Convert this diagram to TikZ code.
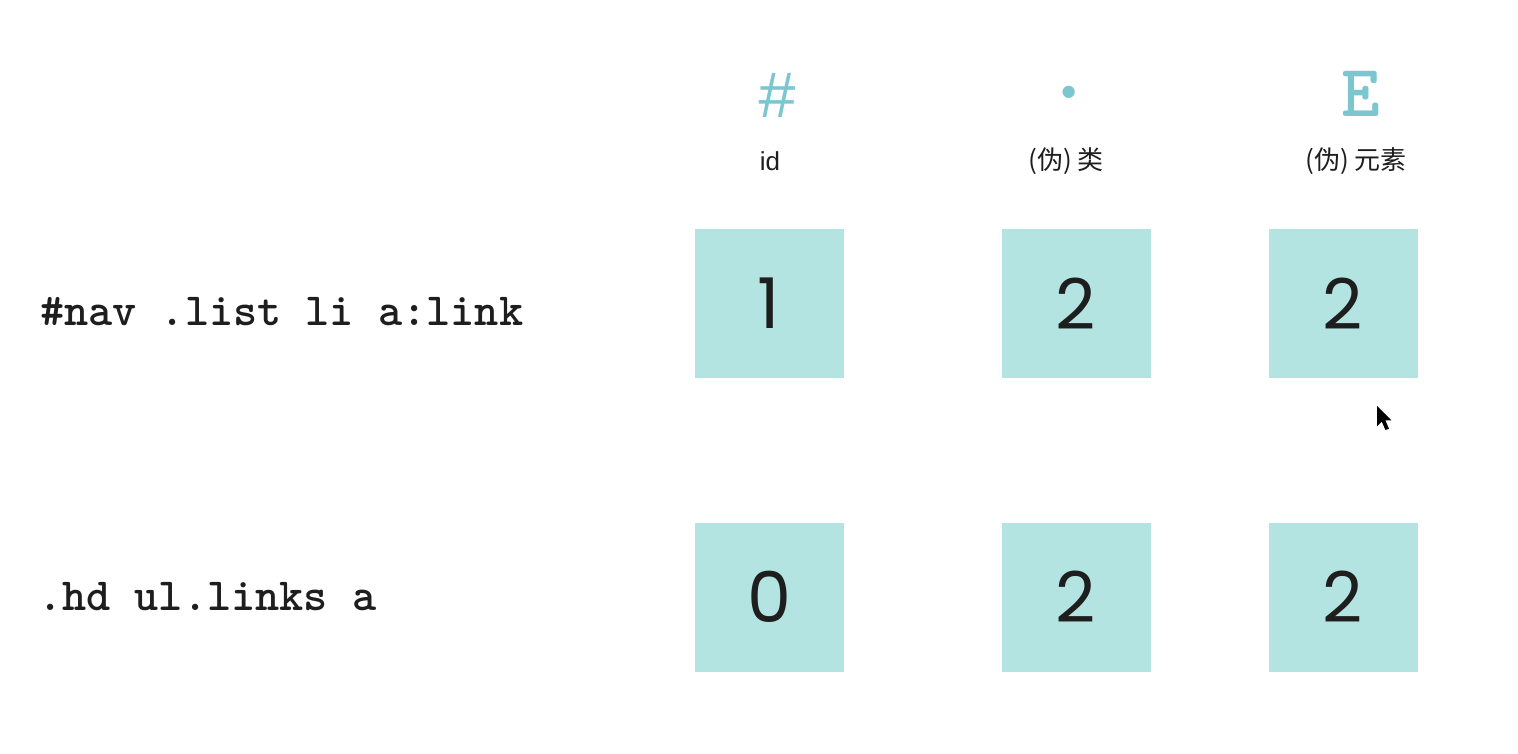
\documentclass[tikz,border=0pt]{standalone}
\usepackage{fontspec}
\newfontfamily\symfont{Liberation Mono}
\newfontfamily\cjkfont{Noto Sans CJK SC}
\newfontfamily\latinlabel{Liberation Sans}
\newfontfamily\digitfont{Poppins}
\definecolor{boxfill}{HTML}{B3E4E1}
\definecolor{headteal}{HTML}{7CC6D0}
\definecolor{inkdark}{HTML}{1E1E1E}
\tikzset{
  cellbox/.style={fill=boxfill, draw=none, minimum width=149pt, minimum height=149pt, inner sep=0pt,
    font=\digitfont\fontsize{70}{70}\selectfont, text=inkdark},
  codetext/.style={anchor=base west, inner sep=0pt, font=\ttfamily\bfseries\fontsize{46}{46}\selectfont, text=inkdark},
  headsym/.style={anchor=base, inner sep=0pt, text=headteal},
  headlabel/.style={anchor=center, inner sep=0pt, font=\cjkfont\fontsize{26}{26}\selectfont, text=inkdark}
}
\begin{document}
\begin{tikzpicture}[x=1pt,y=-1pt]
\useasboundingbox[fill=white] (0,0) rectangle (1518,754);
% headers
\node[headsym, font=\symfont\fontsize{67}{67}\selectfont] (hid) at (778,118) {\#};
\node[headsym, font=\ttfamily\bfseries\fontsize{90}{90}\selectfont] (hcls) at (1069,99) {.};
\node[headsym, font=\ttfamily\bfseries\fontsize{74}{74}\selectfont] (hel) at (1361,117) {E};
\node[headlabel] (lid) at (770,161) {\latinlabel id};
\node[headlabel] (lcls) at (1066,161) {(伪) 类};
\node[headlabel] (lel) at (1356,161) {(伪) 元素};
% code rows
\node[codetext] (code1) at (40,325) {\#nav .list li a:link};
\node[codetext] (code2) at (38,610) {.hd ul.links a};
% boxes row 1
\node[cellbox] (a1) at (769,303.5) {1};
\node[cellbox] (a2) at (1076,303.5) {2};
\node[cellbox] (a3) at (1343,303.5) {2};
% boxes row 2
\node[cellbox] (b1) at (769,597) {0};
\node[cellbox] (b2) at (1076,597) {2};
\node[cellbox] (b3) at (1343,597) {2};
% mouse pointer
\fill[black, shift={(1377,406)}, scale=1.2] (0,0) -- (0,17) -- (4,13) -- (7,20) -- (10,19) -- (7,12) -- (12,12) -- cycle;
\end{tikzpicture}
\end{document}
